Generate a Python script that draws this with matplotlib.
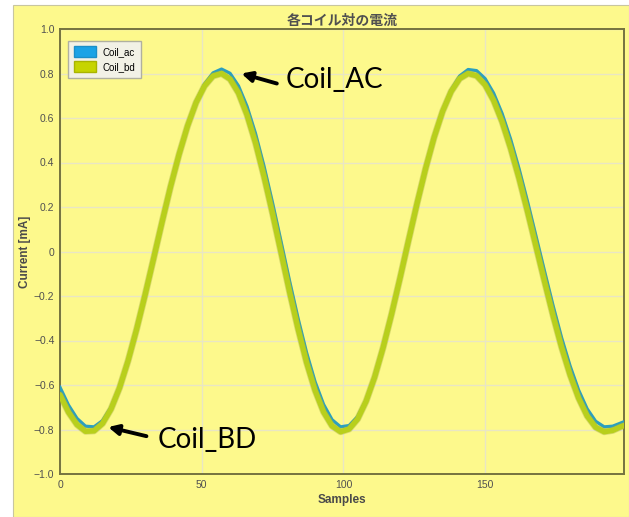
import matplotlib
matplotlib.use('Agg')
import matplotlib.pyplot as plt
import matplotlib.patheffects as pe
from matplotlib.patches import Patch, Rectangle

# sample index (every 3rd sample, plus the last one)
samples = list(range(0, 199, 3)) + [199]

coil_ac = [-0.61, -0.69, -0.75, -0.785, -0.788, -0.760, -0.700, -0.610, -0.493, -0.355,
           -0.202, -0.040, 0.125, 0.285, 0.433, 0.564, 0.673, 0.753, 0.803, 0.820,
           0.801, 0.744, 0.652, 0.530, 0.383, 0.219, 0.045, -0.132, -0.300, -0.454,
           -0.585, -0.687, -0.756, -0.788, -0.782, -0.742, -0.668, -0.564, -0.435, -0.287,
           -0.125, 0.043, 0.210, 0.368, 0.511, 0.632, 0.726, 0.789, 0.818, 0.813,
           0.777, 0.712, 0.620, 0.505, 0.371, 0.223, 0.067, -0.090, -0.244, -0.388,
           -0.515, -0.623, -0.707, -0.763, -0.788, -0.785, -0.770, -0.765]

coil_bd = [-0.644, -0.722, -0.778, -0.808, -0.806, -0.773, -0.708, -0.613, -0.492, -0.351,
           -0.196, -0.033, 0.132, 0.291, 0.436, 0.564, 0.669, 0.744, 0.789, 0.800,
           0.775, 0.712, 0.614, 0.488, 0.337, 0.171, -0.004, -0.181, -0.347, -0.498,
           -0.624, -0.721, -0.784, -0.810, -0.798, -0.753, -0.673, -0.565, -0.432, -0.281,
           -0.118, 0.051, 0.217, 0.373, 0.513, 0.630, 0.719, 0.777, 0.800, 0.790,
           0.749, 0.679, 0.583, 0.464, 0.328, 0.178, 0.021, -0.136, -0.289, -0.431,
           -0.555, -0.659, -0.739, -0.790, -0.810, -0.804, -0.787, -0.782]

xticks = [0, 50, 100, 150]
yticks = [1.0, 0.8, 0.6, 0.4, 0.2, 0, -0.2, -0.4, -0.6, -0.8, -1.0]
ytick_labels = ['1.0', '0.8', '0.6', '0.4', '0.2', '0', '\u22120.2', '\u22120.4',
                '\u22120.6', '\u22120.8', '\u22121.0']

bg = '#fdf98c'
sans = ['Liberation Sans', 'DejaVu Sans']

fig = plt.figure(figsize=(6.29, 5.17), dpi=100)
fig.patch.set_facecolor('white')
# yellow panel (white strip left and top like the screenshot)
fig.add_artist(Rectangle((13/629, 0), 1 - 13/629, 1 - 5/517, transform=fig.transFigure,
                         facecolor=bg, edgecolor='#c8c6a0', lw=0.8, zorder=-10))

ax = fig.add_axes([60/629, 43/517, 564/629, 445/517])
ax.set_facecolor(bg)

ax.plot(samples, coil_ac, color='#2a9fbf', lw=2.3, solid_joinstyle='round', zorder=3)
ax.plot(samples, coil_bd, color='#b8cf1c', lw=3.9, solid_capstyle='round', solid_joinstyle='round',
        path_effects=[pe.Stroke(linewidth=5.0, foreground='#a3ae40', alpha=0.4, joinstyle='round'),
                      pe.Normal()],
        zorder=4)

ax.set_xlim(0, 199)
ax.set_ylim(-1.0, 1.0)
ax.set_xticks(xticks)
ax.set_xticklabels([str(t) for t in xticks], family=sans, fontsize=7.5, color='#505050')
ax.set_yticks(yticks)
ax.set_yticklabels(ytick_labels, family=sans, fontsize=7.5, color='#505050')
ax.tick_params(length=0, pad=4)
ax.grid(True, color='#e9e6c4', lw=1.0)
ax.set_axisbelow(True)
for s in ax.spines.values():
    s.set_color('#75733f')
    s.set_linewidth(1.4)

ax.set_title('各コイル対の電流', family=['Noto Sans CJK JP', 'DejaVu Sans'],
             fontsize=10, fontweight='bold', color='#505050', pad=3)
ax.set_xlabel('Samples', family=sans, fontsize=8.5, fontweight='bold', color='#4a4a4a', labelpad=3)
ax.set_ylabel('Current [mA]', family=sans, fontsize=8.5, fontweight='bold', color='#4a4a4a', labelpad=2)

handles = [Patch(facecolor='#1ba3e6', edgecolor='#1b8fc8', label='Coil_ac'),
           Patch(facecolor='#c6d400', edgecolor='#a9b400', label='Coil_bd')]
leg = ax.legend(handles=handles, loc='upper left', prop={'family': sans, 'size': 7},
                frameon=True, fancybox=False, handlelength=2.3, handleheight=1.3,
                borderpad=0.6, labelspacing=0.45, handletextpad=0.7,
                bbox_to_anchor=(0.005, 0.985))
leg.get_frame().set_facecolor('#f2f1e6')
leg.get_frame().set_edgecolor('#b0b0a0')
leg.get_frame().set_alpha(1)

# arrows + callouts
arrow = dict(arrowstyle='-|>', lw=2.8, color='black', mutation_scale=15, shrinkA=0, shrinkB=0)
ax.annotate('', xy=(64.0, 0.80), xytext=(76.5, 0.755), arrowprops=arrow, zorder=6)
ax.text(79.5, 0.77, 'Coil_AC', family=['Lato', 'DejaVu Sans'], fontsize=20, va='center', ha='left')
ax.annotate('', xy=(17.0, -0.789), xytext=(30.5, -0.83), arrowprops=arrow, zorder=6)
ax.text(34.5, -0.847, 'Coil_BD', family=['Lato', 'DejaVu Sans'], fontsize=20, va='center', ha='left')

fig.savefig('out.png', dpi=100, facecolor=fig.get_facecolor())
